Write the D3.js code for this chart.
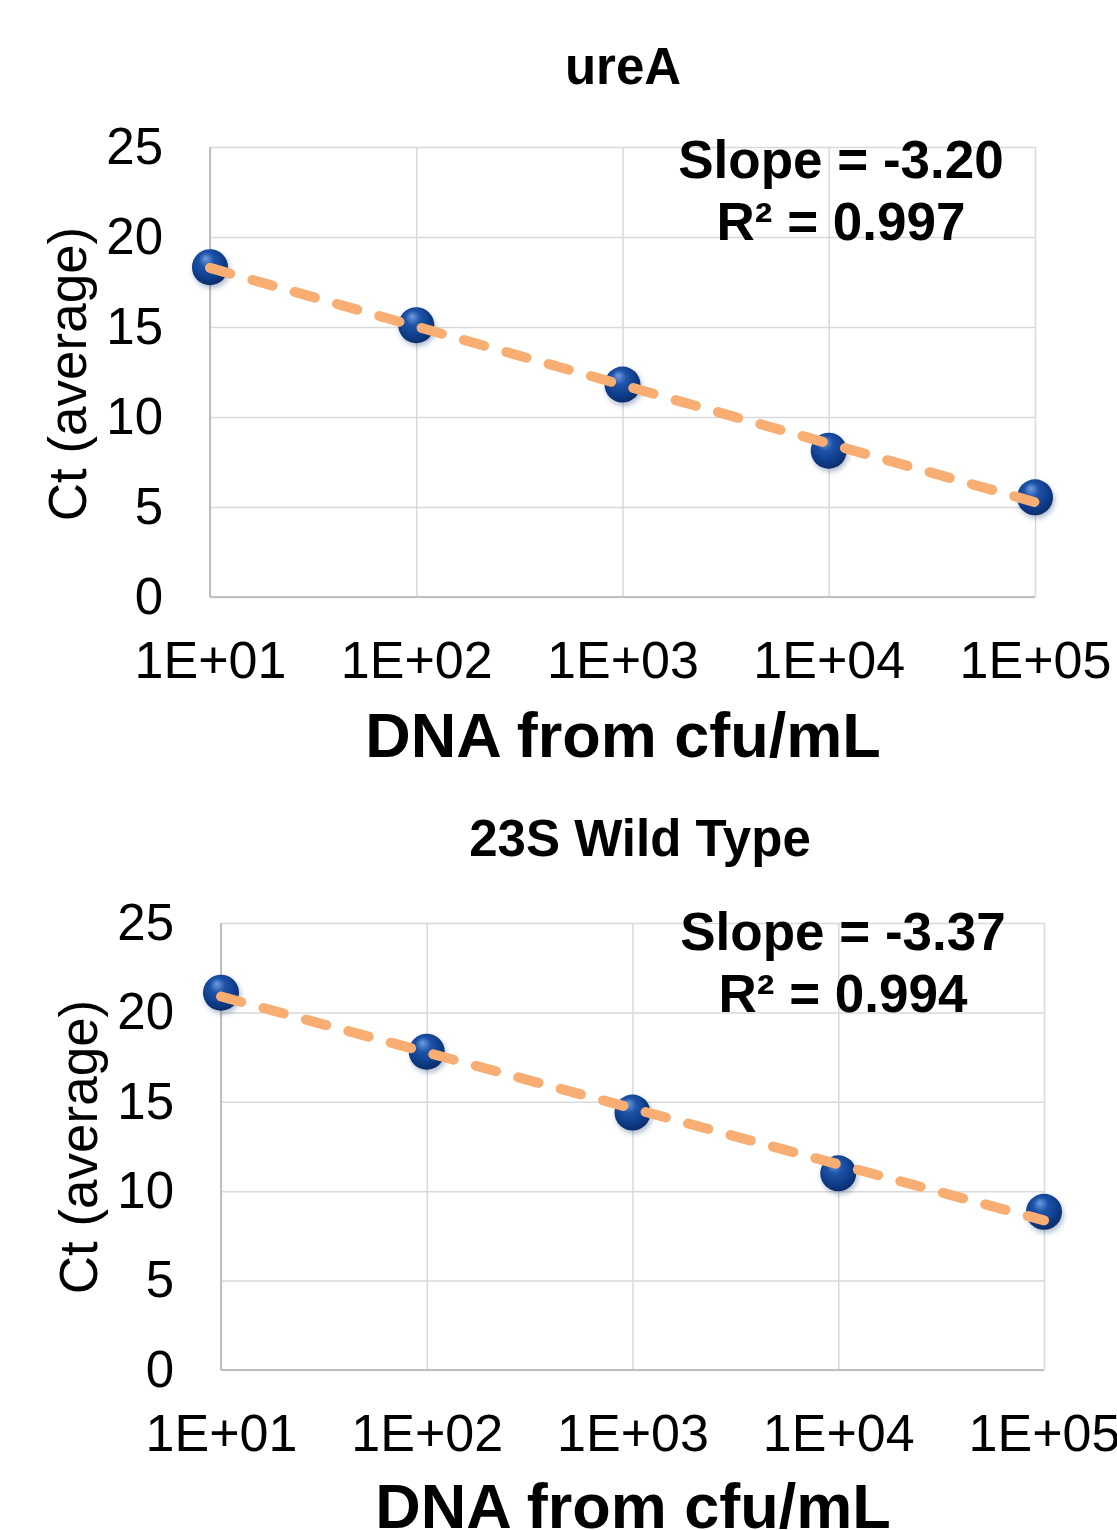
<!DOCTYPE html>
<html>
<head>
<meta charset="utf-8">
<script src="https://cdn.jsdelivr.net/npm/d3@7"></script>
<style>
  html, body { margin: 0; padding: 0; background: #fff; }
  svg { display: block; font-family: "Liberation Sans", Arial, sans-serif; }
</style>
</head>
<body>
<svg id="chart" width="1117" height="1530"></svg>
<script>
// ---- data ----
const xValues = [10, 100, 1000, 10000, 100000];
const xTickLabels = ["1E+01", "1E+02", "1E+03", "1E+04", "1E+05"];
const yTicks = [0, 5, 10, 15, 20, 25];
const panelTitles = ["ureA", "23S Wild Type"];
const ureaCt = [18.32, 15.1, 11.8, 8.13, 5.54];
const wildTypeCt = [21.1, 17.8, 14.4, 11.0, 8.85];
const slopeLabels = ["Slope = -3.20", "Slope = -3.37"];
const r2Labels = ["R² = 0.997", "R² = 0.994"];
const xAxisTitle = "DNA from cfu/mL";
const yAxisTitle = "Ct (average)";

const seriesList = [ureaCt, wildTypeCt];

// ---- layout ----
const panels = [
  { left: 210, right: 1035, top: 147, bottom: 597, titleX: 623, titleY: 84,
    xTitleX: 623, xTitleY: 757, yTitleX: 86, yTitleY: 374, annX: 841, annY: 178 },
  { left: 221, right: 1044, top: 923, bottom: 1370, titleX: 640, titleY: 856,
    xTitleX: 633, xTitleY: 1528, yTitleX: 97, yTitleY: 1147, annX: 843, annY: 950 }
];

const svg = d3.select("#chart");
const defs = svg.append("defs");
const grad = defs.append("radialGradient").attr("id", "ball")
  .attr("cx", "45%").attr("cy", "40%").attr("r", "60%")
  .attr("fx", "38%").attr("fy", "25%");
grad.append("stop").attr("offset", "0%").attr("stop-color", "#6f9ce0");
grad.append("stop").attr("offset", "35%").attr("stop-color", "#1d53a8");
grad.append("stop").attr("offset", "80%").attr("stop-color", "#0d3a85");
grad.append("stop").attr("offset", "100%").attr("stop-color", "#082c68");
const shadow = defs.append("filter").attr("id", "shadow")
  .attr("x", "-50%").attr("y", "-50%").attr("width", "200%").attr("height", "200%");
shadow.append("feDropShadow").attr("dx", 1.5).attr("dy", 3).attr("stdDeviation", 2.5)
  .attr("flood-color", "#1a3a70").attr("flood-opacity", 0.35);

panels.forEach((p, i) => {
  const ys = seriesList[i];
  const x = d3.scaleLog().domain([xValues[0], xValues[xValues.length - 1]]).range([p.left, p.right]);
  const y = d3.scaleLinear().domain([0, 25]).range([p.bottom, p.top]);
  const g = svg.append("g");

  // horizontal gridlines
  const yGrid = g.append("g").attr("transform", `translate(${p.left},0)`)
    .call(d3.axisLeft(y).tickValues(yTicks).tickSize(-(p.right - p.left)).tickFormat(""));
  yGrid.select(".domain").remove();
  yGrid.selectAll("line").attr("stroke", "#d9d9d9").attr("stroke-width", 1.5);

  // vertical gridlines
  const xGrid = g.append("g").attr("transform", `translate(0,${p.bottom})`)
    .call(d3.axisBottom(x).tickValues(xValues).tickSize(-(p.bottom - p.top)).tickFormat(""));
  xGrid.select(".domain").remove();
  xGrid.selectAll("line").attr("stroke", "#d9d9d9").attr("stroke-width", 1.5);

  // axis lines
  g.append("line").attr("x1", p.left).attr("x2", p.left).attr("y1", p.top).attr("y2", p.bottom)
    .attr("stroke", "#bfbfbf").attr("stroke-width", 2);
  g.append("line").attr("x1", p.left).attr("x2", p.right).attr("y1", p.bottom).attr("y2", p.bottom)
    .attr("stroke", "#bfbfbf").attr("stroke-width", 2);

  // y tick labels
  const yAx = g.append("g").attr("transform", `translate(${p.left},0)`)
    .call(d3.axisLeft(y).tickValues(yTicks).tickSize(0).tickPadding(47));
  yAx.select(".domain").remove();
  yAx.selectAll("text").attr("font-size", 51).attr("fill", "#000")
    .attr("font-family", "Liberation Sans, Arial, sans-serif");

  // x tick labels
  const xAx = g.append("g").attr("transform", `translate(0,${p.bottom})`)
    .call(d3.axisBottom(x).tickValues(xValues).tickSize(0).tickPadding(44)
      .tickFormat((d, k) => xTickLabels[k]));
  xAx.select(".domain").remove();
  xAx.selectAll("text").attr("font-size", 52).attr("fill", "#000")
    .attr("font-family", "Liberation Sans, Arial, sans-serif");

  // points
  const pts = xValues.map((xv, k) => ({ x: xv, y: ys[k] }));
  g.selectAll("circle.pt").data(pts).join("circle").attr("class", "pt")
    .attr("cx", d => x(d.x)).attr("cy", d => y(d.y)).attr("r", 18)
    .attr("fill", "url(#ball)").attr("filter", "url(#shadow)");

  // linear trendline in log10(x)
  const lx = pts.map(d => Math.log10(d.x));
  const mx = d3.mean(lx), my = d3.mean(ys);
  const slope = d3.sum(lx.map((v, k) => (v - mx) * (ys[k] - my))) / d3.sum(lx.map(v => (v - mx) ** 2));
  const icpt = my - slope * mx;
  const ends = [xValues[0], xValues[xValues.length - 1]].map(xv => ({ x: xv, y: icpt + slope * Math.log10(xv) }));
  g.append("path").datum(ends)
    .attr("d", d3.line().x(d => x(d.x)).y(d => y(d.y)))
    .attr("fill", "none").attr("stroke", "#f8ae72").attr("stroke-width", 10)
    .attr("stroke-linecap", "round").attr("stroke-dasharray", "21 23");

  // annotation
  g.append("text").attr("x", p.annX).attr("y", p.annY).attr("text-anchor", "middle")
    .attr("font-size", 53).attr("font-weight", "bold").text(slopeLabels[i]);
  g.append("text").attr("x", p.annX).attr("y", p.annY + 62).attr("text-anchor", "middle")
    .attr("font-size", 53).attr("font-weight", "bold").text(r2Labels[i]);

  // titles
  g.append("text").attr("x", p.titleX).attr("y", p.titleY).attr("text-anchor", "middle")
    .attr("font-size", 51).attr("font-weight", "bold").text(panelTitles[i]);
  g.append("text").attr("x", p.xTitleX).attr("y", p.xTitleY).attr("text-anchor", "middle")
    .attr("font-size", 63).attr("font-weight", "bold").text(xAxisTitle);
  g.append("text").attr("transform", `translate(${p.yTitleX},${p.yTitleY}) rotate(-90)`)
    .attr("text-anchor", "middle").attr("font-size", 53).text(yAxisTitle);
});
</script>
</body>
</html>
